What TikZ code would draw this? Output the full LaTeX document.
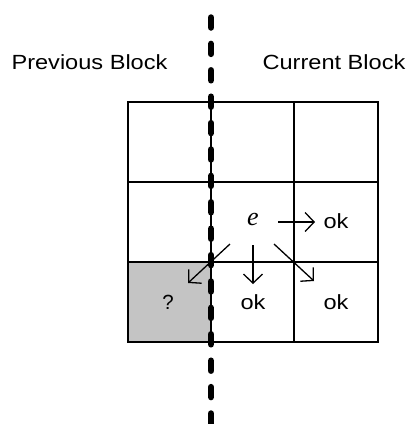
\documentclass[tikz,border=0pt]{standalone}
\usepackage{fontspec}
\setmainfont{Liberation Sans}
\newfontfamily\serifit{Liberation Serif}
\usetikzlibrary{arrows.meta}
\begin{document}
\begin{tikzpicture}[x=1pt,y=-1pt,
  gridline/.style={line width=2.2pt},
  divider/.style={line width=6.5pt, line cap=round, dash pattern=on 10pt off 16.4pt},
  move/.style={line width=1.3pt, -{Straight Barb[length=9pt,width=19pt,line width=1.3pt]}},
  lbl/.style={font=\fontsize{20.5}{22}\selectfont, inner sep=0pt},
  cell/.style={font=\fontsize{20.5}{22}\selectfont, inner sep=0pt}]
\useasboundingbox (0,0) rectangle (410,424);
% shaded cell
\fill[fill={rgb,255:red,196;green,196;blue,196}] (128,262) rectangle (211,342);
% grid
\draw[gridline] (128,102) rectangle (378,342);
\draw[gridline] (128,182) -- (378,182);
\draw[gridline] (128,262) -- (378,262);
\draw[gridline] (211,102) -- (211,342);
\draw[gridline] (294,102) -- (294,342);
% divider
\coordinate (dtop) at (211,17.5);
\coordinate (dbot) at (211,430);
\draw[divider] (dtop) -- (dbot);
% labels
\node[lbl] (prev) at (89.5,62) {\scalebox{1.15}[1]{Previous Block}};
\node[lbl] (curr) at (334,62) {\scalebox{1.15}[1]{Current Block}};
% cell texts
\node[cell, font=\fontsize{26}{28}\selectfont\serifit\itshape] (e) at (253,219) {e};
\node[cell] (ok1) at (336,221) {\scalebox{1.15}[1]{ok}};
\node[cell] (ok2) at (253,302) {\scalebox{1.15}[1]{ok}};
\node[cell] (ok3) at (336,302) {\scalebox{1.15}[1]{ok}};
\node[cell] (q) at (168,302) {?};
% arrows
\coordinate (r0) at (278,222); \coordinate (r1) at (315,222);
\coordinate (d0) at (253,245); \coordinate (d1) at (253,284);
\coordinate (dr0) at (274,244); \coordinate (dr1) at (314,281);
\coordinate (dl0) at (230,244); \coordinate (dl1) at (188,283);
\draw[move] (r0) -- (r1);
\draw[move] (d0) -- (d1);
\draw[move] (dr0) -- (dr1);
\draw[move] (dl0) -- (dl1);
\end{tikzpicture}
\end{document}
